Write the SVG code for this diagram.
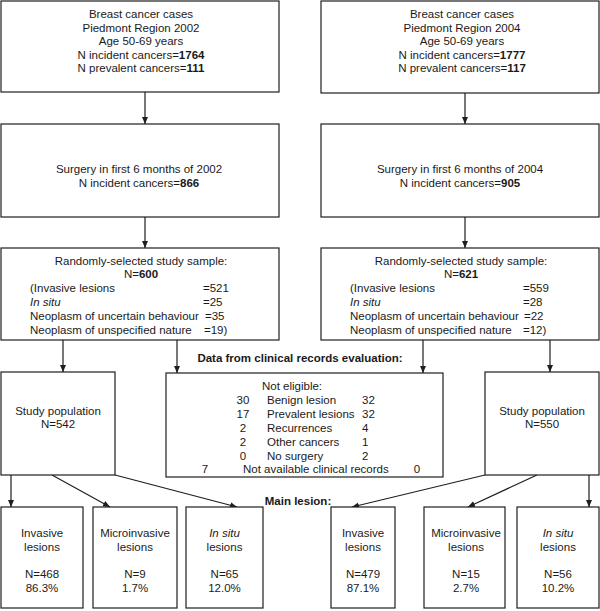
<svg xmlns="http://www.w3.org/2000/svg" width="600" height="611" viewBox="0 0 600 611">
<defs>
<marker id="ah" markerUnits="userSpaceOnUse" markerWidth="8" markerHeight="8" refX="7" refY="3" orient="auto">
<path d="M0,0 L7,3 L0,6 z" fill="#1e1e1e"/>
</marker>
<style>
.box{fill:#fff;stroke:#1e1e1e;stroke-width:1.2}
.t{font-family:"Liberation Sans",Arial,sans-serif;font-size:11.5px;fill:#1a1a1a}
.c{text-anchor:middle}
.b{font-weight:bold}
.i{font-style:italic}
.e{stroke:#1e1e1e;stroke-width:1.2;fill:none;marker-end:url(#ah)}
</style>
</defs>
<rect width="600" height="611" fill="#fff"/>
<g id="connectors">
<line class="e" x1="145" y1="92" x2="145" y2="124"/>
<line class="e" x1="465" y1="93" x2="465" y2="124"/>
<line class="e" x1="145" y1="217" x2="145" y2="248"/>
<line class="e" x1="465" y1="217" x2="465" y2="248"/>
<line class="e" x1="63" y1="340" x2="63" y2="372"/>
<line class="e" x1="177" y1="340" x2="177" y2="373"/>
<line class="e" x1="423" y1="340" x2="423" y2="373"/>
<line class="e" x1="550" y1="340" x2="550" y2="372"/>
<line class="e" x1="11" y1="475" x2="11" y2="507"/>
<line class="e" x1="52" y1="475" x2="110" y2="507"/>
<line class="e" x1="115" y1="475" x2="237" y2="507"/>
<line class="e" x1="589" y1="475" x2="589" y2="507"/>
<line class="e" x1="537" y1="475" x2="468" y2="507"/>
<line class="e" x1="485" y1="475" x2="352" y2="507"/>
</g>
<g id="n1">
<rect class="box" x="1" y="1" width="278" height="91"/>
<text class="t c" x="141" y="18">Breast cancer cases</text>
<text class="t c" x="141" y="31.5">Piedmont Region 2002</text>
<text class="t c" x="141" y="45">Age 50-69 years</text>
<text class="t c" x="141" y="58.5">N incident cancers=<tspan class="b">1764</tspan></text>
<text class="t c" x="141" y="72">N prevalent cancers=<tspan class="b">111</tspan></text>
</g>
<g id="n2">
<rect class="box" x="321" y="1" width="278" height="92"/>
<text class="t c" x="462" y="18">Breast cancer cases</text>
<text class="t c" x="462" y="31.5">Piedmont Region 2004</text>
<text class="t c" x="462" y="45">Age 50-69 years</text>
<text class="t c" x="462" y="58.5">N incident cancers=<tspan class="b">1777</tspan></text>
<text class="t c" x="462" y="72">N prevalent cancers=<tspan class="b">117</tspan></text>
</g>
<g id="n3">
<rect class="box" x="1" y="124" width="278" height="93"/>
<text class="t c" x="139" y="173">Surgery in first 6 months of 2002</text>
<text class="t c" x="139" y="187">N incident cancers=<tspan class="b">866</tspan></text>
</g>
<g id="n4">
<rect class="box" x="321" y="124" width="278" height="93"/>
<text class="t c" x="460" y="173">Surgery in first 6 months of 2004</text>
<text class="t c" x="460" y="187">N incident cancers=<tspan class="b">905</tspan></text>
</g>
<g id="n5">
<rect class="box" x="1" y="248" width="278" height="92"/>
<text class="t c" x="141" y="265">Randomly-selected study sample:</text>
<text class="t c" x="141" y="278">N=<tspan class="b">600</tspan></text>
<text class="t" x="30" y="292">(Invasive lesions</text>
<text class="t" x="203" y="292">=521</text>
<text class="t i" x="30" y="306">In situ</text>
<text class="t" x="203" y="306">=25</text>
<text class="t" x="30" y="320">Neoplasm of uncertain behaviour</text>
<text class="t" x="205" y="320">=35</text>
<text class="t" x="30" y="334">Neoplasm of unspecified nature</text>
<text class="t" x="204" y="334">=19)</text>
</g>
<g id="n6">
<rect class="box" x="321" y="248" width="278" height="92"/>
<text class="t c" x="461" y="265">Randomly-selected study sample:</text>
<text class="t c" x="461" y="278">N=<tspan class="b">621</tspan></text>
<text class="t" x="350" y="292">(Invasive lesions</text>
<text class="t" x="523" y="292">=559</text>
<text class="t i" x="350" y="306">In situ</text>
<text class="t" x="523" y="306">=28</text>
<text class="t" x="350" y="320">Neoplasm of uncertain behaviour</text>
<text class="t" x="524" y="320">=22</text>
<text class="t" x="350" y="334">Neoplasm of unspecified nature</text>
<text class="t" x="523" y="334">=12)</text>
</g>
<g id="lbl1">
<text class="t b c" x="300" y="362">Data from clinical records evaluation:</text>
</g>
<g id="n7">
<rect class="box" x="166" y="373" width="277" height="104"/>
<text class="t c" x="292" y="390">Not eligible:</text>
<text class="t c" x="243" y="403.5">30</text><text class="t" x="267" y="403.5">Benign lesion</text><text class="t" x="362" y="403.5">32</text>
<text class="t c" x="243" y="417.5">17</text><text class="t" x="267" y="417.5">Prevalent lesions</text><text class="t" x="362" y="417.5">32</text>
<text class="t c" x="243" y="431.5">2</text><text class="t" x="267" y="431.5">Recurrences</text><text class="t" x="362" y="431.5">4</text>
<text class="t c" x="243" y="445.5">2</text><text class="t" x="267" y="445.5">Other cancers</text><text class="t" x="362" y="445.5">1</text>
<text class="t c" x="243" y="459.5">0</text><text class="t" x="267" y="459.5">No surgery</text><text class="t" x="362" y="459.5">2</text>
<text class="t c" x="205" y="473">7</text><text class="t" x="243" y="473">Not available clinical records</text><text class="t c" x="417" y="473">0</text>
</g>
<g id="n8">
<rect class="box" x="1" y="372" width="114" height="103"/>
<text class="t c" x="58" y="415">Study population</text>
<text class="t c" x="58" y="428">N=542</text>
</g>
<g id="n9">
<rect class="box" x="485" y="372" width="114" height="103"/>
<text class="t c" x="542" y="415">Study population</text>
<text class="t c" x="542" y="428">N=550</text>
</g>
<g id="lbl2">
<text class="t b c" x="298" y="505">Main lesion:</text>
</g>
<g id="n10">
<rect class="box" x="1" y="507" width="82" height="101"/>
<text class="t c" x="42" y="537">Invasive</text>
<text class="t c" x="42" y="551">lesions</text>
<text class="t c" x="42" y="578">N=468</text>
<text class="t c" x="42" y="592">86.3%</text>
</g>
<g id="n11">
<rect class="box" x="93" y="507" width="84" height="101"/>
<text class="t c" x="135" y="537">Microinvasive</text>
<text class="t c" x="135" y="551">lesions</text>
<text class="t c" x="135" y="578">N=9</text>
<text class="t c" x="135" y="592">1.7%</text>
</g>
<g id="n12">
<rect class="box" x="186" y="507" width="77" height="101"/>
<text class="t c i" x="224.5" y="537">In situ</text>
<text class="t c" x="224.5" y="551">lesions</text>
<text class="t c" x="224.5" y="578">N=65</text>
<text class="t c" x="224.5" y="592">12.0%</text>
</g>
<g id="n13">
<rect class="box" x="331" y="507" width="64" height="101"/>
<text class="t c" x="363" y="537">Invasive</text>
<text class="t c" x="363" y="551">lesions</text>
<text class="t c" x="363" y="578">N=479</text>
<text class="t c" x="363" y="592">87.1%</text>
</g>
<g id="n14">
<rect class="box" x="424" y="507" width="81" height="101"/>
<text class="t c" x="466" y="537">Microinvasive</text>
<text class="t c" x="466" y="551">lesions</text>
<text class="t c" x="466" y="578">N=15</text>
<text class="t c" x="466" y="592">2.7%</text>
</g>
<g id="n15">
<rect class="box" x="517" y="507" width="82" height="101"/>
<text class="t c i" x="558" y="537">In situ</text>
<text class="t c" x="558" y="551">lesions</text>
<text class="t c" x="558" y="578">N=56</text>
<text class="t c" x="558" y="592">10.2%</text>
</g>
</svg>
